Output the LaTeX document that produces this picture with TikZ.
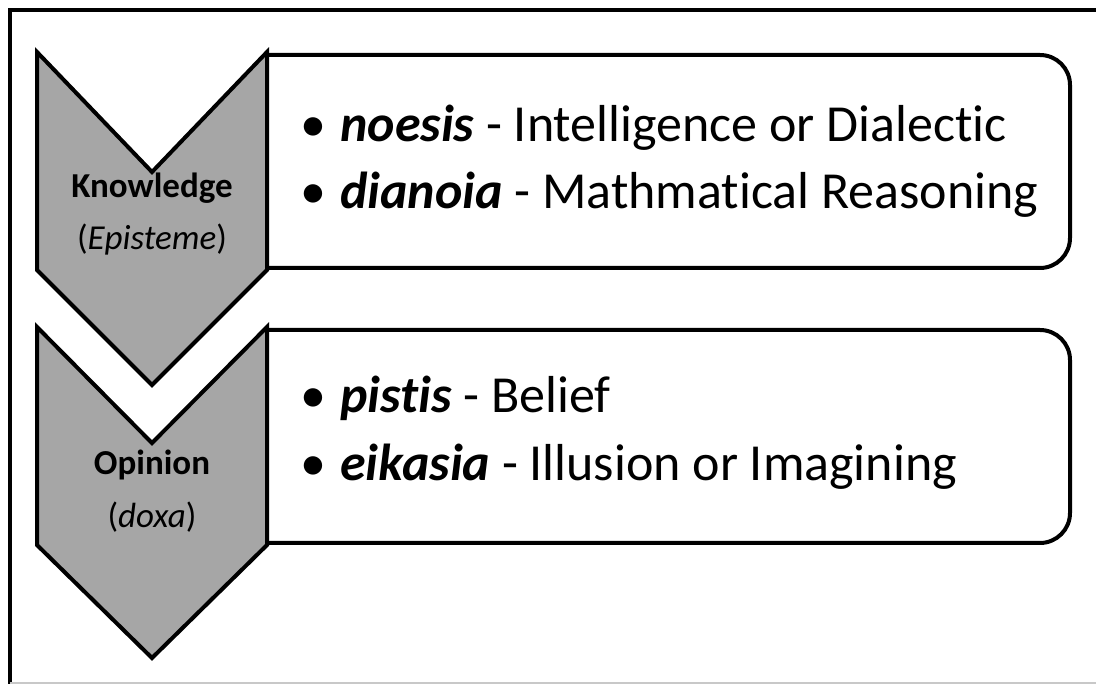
\documentclass[tikz,border=0pt]{standalone}
\usepackage{fontspec}
\setmainfont{Carlito}[Ligatures=NoCommon]
\usepackage{xcolor}
\usetikzlibrary{positioning,calc}
\definecolor{ChevGray}{HTML}{A6A6A6}
\definecolor{EdgeGray}{HTML}{C8C8C8}

\newcommand{\itembullet}{\makebox[40pt][l]{\textbullet}}

\begin{document}
\begin{tikzpicture}[x=1pt,y=-1pt,
  chev/.style={draw=black,fill=ChevGray,line width=4pt,line join=miter},
  panel/.style={draw=black,fill=white,line width=4pt,rounded corners=30pt},
  item/.style={anchor=base west,inner sep=0pt,font=\fontsize{52}{60}\selectfont},
  tag/.style={anchor=base,inner sep=0pt,font=\fontsize{35}{42}\selectfont}
]
\useasboundingbox (0,0) rectangle (1096,684);
% outer frame
\draw[line width=4.5pt] (10,684) -- (10,10) -- (1096,10);
\draw[EdgeGray,line width=1.5pt] (10,683) -- (1096,683);

% panels
\draw[panel] (267,55) -- (1070,55) -- (1070,268) -- (267,268);
\draw[panel] (267,330) -- (1070,330) -- (1070,543) -- (267,543);

% chevrons
\draw[chev] (37,52) -- (152,172) -- (267,52) -- (267,270) -- (152,385) -- (37,270) -- cycle;
\draw[chev] (37,327) -- (152,443) -- (267,327) -- (267,545) -- (152,658) -- (37,545) -- cycle;

% chevron labels
\node[tag] (know) at (152,198) {\textbf{Knowledge}};
\node[tag] (epis) at ($(know.base)+(0,52)$) {(\textit{Episteme})};
\node[tag] (opin) at (152,475) {\textbf{Opinion}};
\node[tag] (doxa) at ($(opin.base)+(0,53)$) {(\textit{doxa})};

% items
\node[item] (noesis) at (300,142) {\itembullet\textbf{\textit{noesis}} - Intelligence or Dialectic};
\node[item] (dianoia) at (300,209) {\itembullet\textbf{\textit{dianoia}} - Mathmatical Reasoning};
\node[item] (pistis) at (300,413) {\itembullet\textbf{\textit{pistis}} - Belief};
\node[item] (eikasia) at (300,481) {\itembullet\textbf{\textit{eikasia}} - Illusion or Imagining};
\end{tikzpicture}
\end{document}
